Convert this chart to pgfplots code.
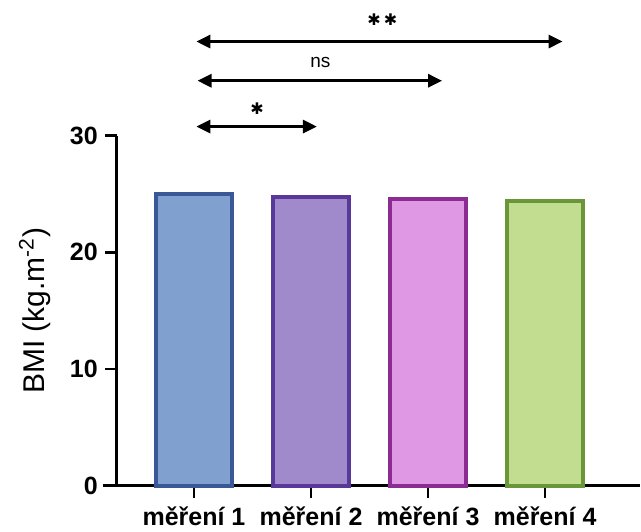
\documentclass[border=0pt]{standalone}
\usepackage{fontspec}
\setmainfont{Liberation Sans}
\newfontfamily\djv{DejaVu Sans}
\usepackage{pgfplots}
\pgfplotsset{compat=1.18}
\usetikzlibrary{arrows.meta}
\definecolor{f1}{RGB}{128,160,208}
\definecolor{e1}{RGB}{58,88,150}
\definecolor{f2}{RGB}{160,138,204}
\definecolor{e2}{RGB}{88,56,152}
\definecolor{f3}{RGB}{222,152,228}
\definecolor{e3}{RGB}{140,44,146}
\definecolor{f4}{RGB}{194,220,144}
\definecolor{e4}{RGB}{104,150,56}
\begin{document}
\begin{tikzpicture}
\begin{axis}[
  scale only axis,
  width=261.5pt, height=175pt,
  xmin=-0.66, xmax=3.81, ymin=0, ymax=30,
  axis x line=bottom, axis y line=left,
  axis line style={-, line width=1.4pt},
  ybar, bar width=38pt, bar shift=0pt,
  xtick={0,1,2,3},
  xticklabels={měření 1,měření 2,měření 3,měření 4},
  ytick={0,10,20,30},
  tick align=outside,
  major tick length=6pt,
  tick style={line width=1.4pt, black},
  /pgf/number format/assume math mode=true,
  ticklabel style={font=\fontsize{12.5}{14}\selectfont\bfseries},
  xticklabel style={yshift=-1.2pt},
  ylabel={BMI (kg.m\textsuperscript{-2})},
  ylabel style={font=\fontsize{15}{17}\selectfont, at={(axis description cs:-0.157,0.5)}, anchor=center},
  clip=false,
]
\addplot[fill=f1, draw=e1, line width=2pt] coordinates {(0,25.0)};
\addplot[fill=f2, draw=e2, line width=2pt] coordinates {(1,24.7)};
\addplot[fill=f3, draw=e3, line width=2pt] coordinates {(2,24.6)};
\addplot[fill=f4, draw=e4, line width=2pt] coordinates {(3,24.4)};
\draw[line width=1.4pt] (axis cs:-0.78,0) -- (axis cs:-0.66,0);
\draw[line width=1.5pt, {Triangle[length=7pt,width=6.5pt]}-{Triangle[length=7pt,width=6.5pt]}] (axis cs:0.02,38.06) -- (axis cs:3.15,38.06);
\draw[line width=1.5pt, {Triangle[length=7pt,width=6.5pt]}-{Triangle[length=7pt,width=6.5pt]}] (axis cs:0.03,34.7) -- (axis cs:2.12,34.7);
\draw[line width=1.5pt, {Triangle[length=7pt,width=6.5pt]}-{Triangle[length=7pt,width=6.5pt]}] (axis cs:0.02,30.77) -- (axis cs:1.05,30.77);
\node[font=\fontsize{8}{10}\selectfont\djv, inner sep=0pt] at (axis cs:1.61,39.95) {✱\hspace{1.5pt}✱};
\node[font=\fontsize{9.5}{11}\selectfont] at (axis cs:1.08,36.3) {ns};
\node[font=\fontsize{8}{10}\selectfont\djv, inner sep=0pt] at (axis cs:0.54,32.3) {✱};
\coordinate (bl) at (axis cs:-1.658,-3.93);
\coordinate (tr) at (axis cs:3.82,41.62);
\end{axis}
\pgfresetboundingbox
\useasboundingbox (bl) rectangle (tr);
\end{tikzpicture}
\end{document}
